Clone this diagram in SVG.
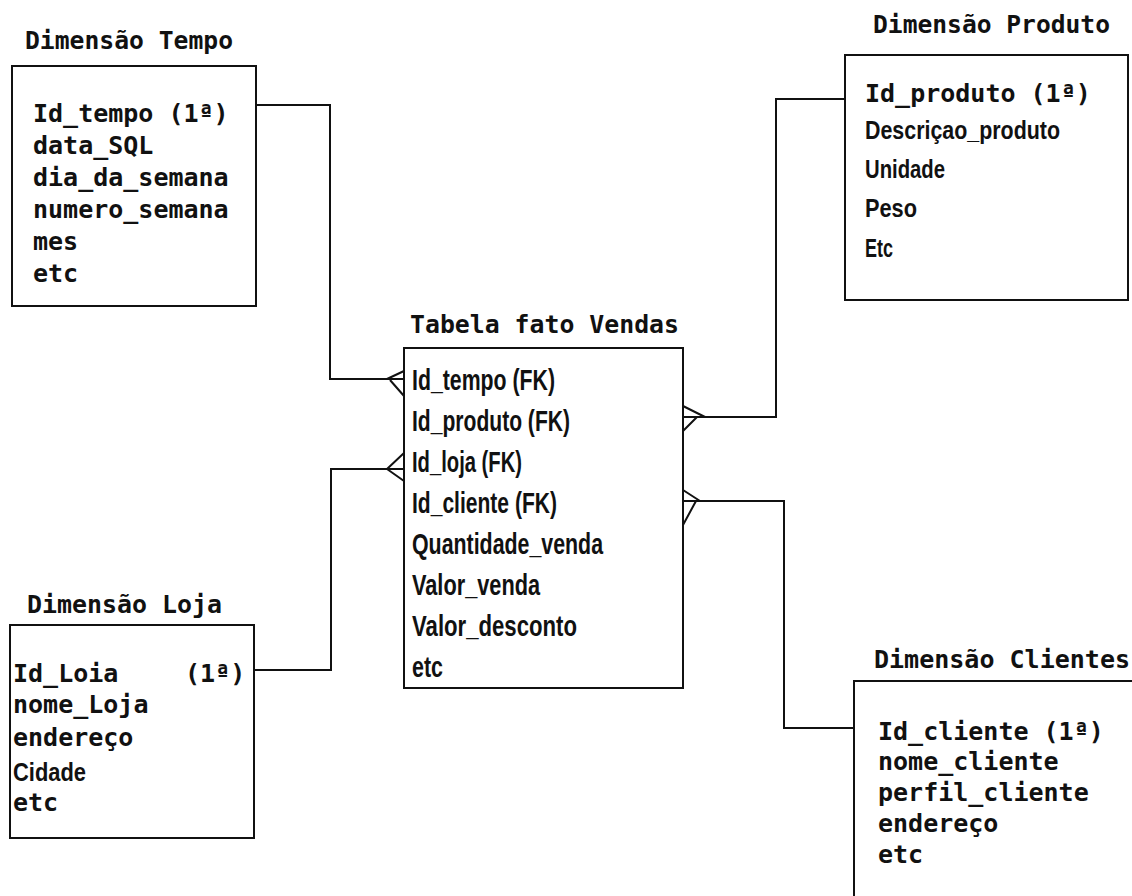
<svg xmlns="http://www.w3.org/2000/svg" width="1132" height="896" viewBox="0 0 1132 896">
  <style>
    .box { fill: #ffffff; stroke: #111111; stroke-width: 2; }
    .link { fill: none; stroke: #111111; stroke-width: 2; }
    .mono { font-family: "DejaVu Sans Mono", "Liberation Mono", monospace; font-weight: bold; font-size: 25px; fill: #111111; }
    .title { font-family: "DejaVu Sans Mono", "Liberation Mono", monospace; font-weight: bold; font-size: 24px; fill: #111111; }
    .narrow { font-family: "Liberation Sans", Arial, sans-serif; font-weight: bold; font-size: 26px; fill: #111111; }
    .fact { font-family: "Liberation Sans", Arial, sans-serif; font-weight: bold; font-size: 30px; fill: #111111; }
  </style>
  <rect x="0" y="0" width="1132" height="896" fill="#ffffff"/>

  <!-- connectors: dimension keys to the fact table (crow's foot on the fact side) -->
  <g id="connectors">
    <path class="link" d="M256,105 H330 V379 H387"/>
    <path class="link" d="M387,379 L404,371 M387,379 H404 M390,380 L404,396"/>
    <path class="link" d="M254,670 H331 V469 H387"/>
    <path class="link" d="M387,469 L404,453 M387,469 H404 M387,469 L404,481"/>
    <path class="link" d="M705,417 H776 V99 H845"/>
    <path class="link" d="M683,406 L705,417 M683,417 H705 M683,431 L697,417"/>
    <path class="link" d="M700,501 H784 V728 H854"/>
    <path class="link" d="M683,490 L700,501 M683,501 H700 M683,525 L696,501"/>
  </g>

  <g id="dim-tempo">
    <text class="title" x="25" y="49" textLength="208" lengthAdjust="spacingAndGlyphs">Dimensão Tempo</text>
    <rect class="box" x="12" y="66" width="244" height="240"/>
    <text class="mono" x="33" y="122">Id_tempo (1ª)</text>
    <text class="mono" x="33" y="154">data_SQL</text>
    <text class="mono" x="33" y="186">dia_da_semana</text>
    <text class="mono" x="33" y="218">numero_semana</text>
    <text class="mono" x="33" y="250">mes</text>
    <text class="mono" x="33" y="282">etc</text>
  </g>

  <g id="dim-produto">
    <text class="title" x="873" y="33" textLength="237" lengthAdjust="spacingAndGlyphs">Dimensão Produto</text>
    <rect class="box" x="845" y="55" width="283" height="245"/>
    <text class="mono" x="865" y="102">Id_produto (1ª)</text>
    <text class="narrow" x="865" y="139" textLength="195" lengthAdjust="spacingAndGlyphs">Descriçao_produto</text>
    <text class="narrow" x="865" y="178" textLength="80" lengthAdjust="spacingAndGlyphs">Unidade</text>
    <text class="narrow" x="865" y="217" textLength="52" lengthAdjust="spacingAndGlyphs">Peso</text>
    <text class="narrow" x="865" y="257" textLength="28" lengthAdjust="spacingAndGlyphs">Etc</text>
  </g>

  <g id="fato-vendas">
    <text class="title" x="410" y="333" textLength="269" lengthAdjust="spacingAndGlyphs">Tabela fato Vendas</text>
    <rect class="box" x="404" y="348" width="279" height="340"/>
    <text class="fact" x="412" y="390" textLength="143" lengthAdjust="spacingAndGlyphs">Id_tempo (FK)</text>
    <text class="fact" x="412" y="431" textLength="158" lengthAdjust="spacingAndGlyphs">Id_produto (FK)</text>
    <text class="fact" x="412" y="472" textLength="110" lengthAdjust="spacingAndGlyphs">Id_loja (FK)</text>
    <text class="fact" x="412" y="513" textLength="145" lengthAdjust="spacingAndGlyphs">Id_cliente (FK)</text>
    <text class="fact" x="412" y="554" textLength="191" lengthAdjust="spacingAndGlyphs">Quantidade_venda</text>
    <text class="fact" x="412" y="595" textLength="128" lengthAdjust="spacingAndGlyphs">Valor_venda</text>
    <text class="fact" x="412" y="636" textLength="165" lengthAdjust="spacingAndGlyphs">Valor_desconto</text>
    <text class="fact" x="412" y="677" textLength="31" lengthAdjust="spacingAndGlyphs">etc</text>
  </g>

  <g id="dim-loja">
    <text class="title" x="27" y="613" textLength="195" lengthAdjust="spacingAndGlyphs">Dimensão Loja</text>
    <rect class="box" x="10" y="625" width="244" height="213"/>
    <text class="mono" x="13" y="682">Id_Loia<tspan x="185">(1ª)</tspan></text>
    <text class="mono" x="13" y="713">nome_Loja</text>
    <text class="mono" x="13" y="746">endereço</text>
    <text class="narrow" x="13" y="781" textLength="73" lengthAdjust="spacingAndGlyphs">Cidade</text>
    <text class="mono" x="13" y="811">etc</text>
  </g>

  <g id="dim-clientes">
    <text class="title" x="874" y="668" textLength="256" lengthAdjust="spacingAndGlyphs">Dimensão Clientes</text>
    <rect class="box" x="854" y="681" width="300" height="260"/>
    <text class="mono" x="878" y="740">Id_cliente (1ª)</text>
    <text class="mono" x="878" y="770">nome_cliente</text>
    <text class="mono" x="878" y="801">perfil_cliente</text>
    <text class="mono" x="878" y="832">endereço</text>
    <text class="mono" x="878" y="863">etc</text>
  </g>
</svg>
